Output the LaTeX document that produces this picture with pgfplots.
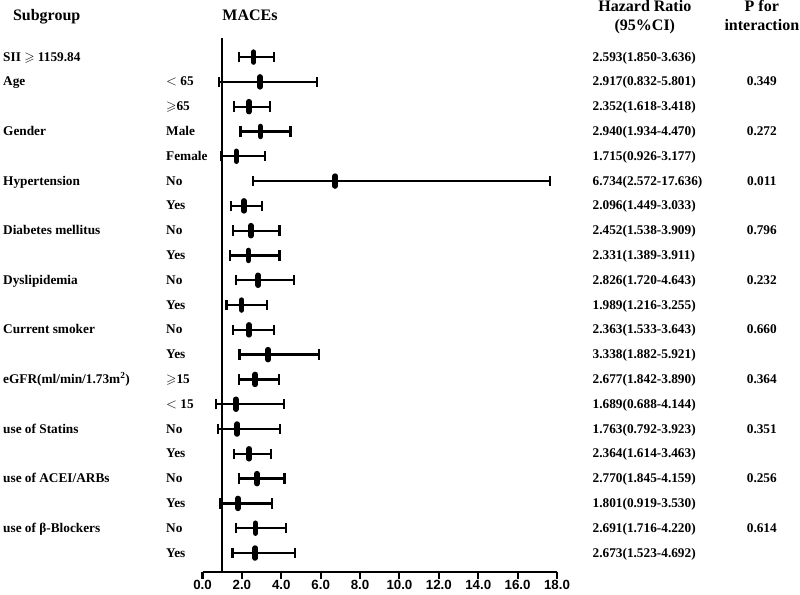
\documentclass[border=0pt]{standalone}
\usepackage{amssymb}
\usepackage{fontspec}
\setmainfont{Liberation Serif}
\newfontfamily\ticksans{Liberation Sans}
\usepackage{pgfplots}
\pgfplotsset{compat=1.18}
\usepackage{pgfplotstable}

\pgfplotstableread{
y hr lo hi
20 2.593 1.850 3.636
19 2.917 0.832 5.801
18 2.352 1.618 3.418
17 2.940 1.934 4.470
16 1.715 0.926 3.177
15 6.734 2.572 17.636
14 2.096 1.449 3.033
13 2.452 1.538 3.909
12 2.331 1.389 3.911
11 2.826 1.720 4.643
10 1.989 1.216 3.255
9 2.363 1.533 3.643
8 3.338 1.882 5.921
7 2.677 1.842 3.890
6 1.689 0.688 4.144
5 1.763 0.792 3.923
4 2.364 1.614 3.463
3 2.770 1.845 4.159
2 1.801 0.919 3.530
1 2.691 1.716 4.220
0 2.673 1.523 4.692
}\data

\begin{document}
\begin{tikzpicture}[
  lbl/.style={font=\bfseries\fontsize{13.3bp}{15bp}\selectfont, inner sep=0pt, text height=9bp, text depth=1bp},
  hdr/.style={font=\bfseries\fontsize{16bp}{18bp}\selectfont, inner sep=0pt, text height=11bp, text depth=1bp},
]
\path[use as bounding box] (0bp,0bp) rectangle (800bp,595bp);
\begin{axis}[
  at={(202.5bp,23bp)}, anchor=south west,
  scale only axis, width=354.5bp, height=534bp,
  xmin=0, xmax=18, ymin=-0.766, ymax=20.77,
  axis y line=none, axis x line*=bottom,
  axis line style={line width=2.4bp,-,black},
  xtick={0,2,...,18},
  xticklabels={0.0,2.0,4.0,6.0,8.0,10.0,12.0,14.0,16.0,18.0},
  xtick align=outside, major tick length=6.5bp,
  tick style={line width=2bp, black},
  xticklabel style={font=\ticksans\bfseries\fontsize{13.3bp}{15bp}\selectfont, inner sep=2bp},
  clip=false,
]
\addplot[black, line width=2.3bp] coordinates {(1,-0.766) (1,20.77)};
\addplot[draw=none, mark=none,
  error bars/.cd, x dir=both, x explicit,
  error bar style={draw=black, line width=2.3bp},
  error mark=|, error mark options={draw=black, line width=2.2bp, mark size=5.2bp}]
  table[x=hr, y=y, x error plus expr=\thisrow{hi}-\thisrow{hr}, x error minus expr=\thisrow{hr}-\thisrow{lo}] {\data};
\addplot[only marks, mark=|, mark size=5bp, mark options={draw=black, line width=5.5bp, line cap=round}]
  table[x=hr, y=y] {\data};

% headers
\node[hdr, anchor=west] at (axis cs:-9.63,21.69) {Subgroup};
\node[hdr] at (axis cs:2.41,21.69) {MACEs};
\node[hdr] at (axis cs:22.46,22.02) {Hazard Ratio};
\node[hdr] at (axis cs:22.46,21.29) {(95\%CI)};
\node[hdr] at (axis cs:28.4,22.02) {P for};
\node[hdr] at (axis cs:28.4,21.29) {interaction};

% subgroup labels
\node[lbl, anchor=west] at (axis cs:-10.13,20) {SII $\geqslant$ 1159.84};
\node[lbl, anchor=west] at (axis cs:-10.13,19) {Age};
\node[lbl, anchor=west] at (axis cs:-10.13,17) {Gender};
\node[lbl, anchor=west] at (axis cs:-10.13,15) {Hypertension};
\node[lbl, anchor=west] at (axis cs:-10.13,13) {Diabetes mellitus};
\node[lbl, anchor=west] at (axis cs:-10.13,11) {Dyslipidemia};
\node[lbl, anchor=west] at (axis cs:-10.13,9) {Current smoker};
\node[lbl, anchor=west] at (axis cs:-10.13,7) {eGFR(ml/min/1.73m\textsuperscript{2})};
\node[lbl, anchor=west] at (axis cs:-10.13,5) {use of Statins};
\node[lbl, anchor=west] at (axis cs:-10.13,3) {use of ACEI/ARBs};
\node[lbl, anchor=west] at (axis cs:-10.13,1) {use of β-Blockers};

% sub-category labels
\node[lbl, anchor=west] at (axis cs:-1.853,19) {$<$ 65};
\node[lbl, anchor=west] at (axis cs:-1.853,18) {$\geqslant$65};
\node[lbl, anchor=west] at (axis cs:-1.853,17) {Male};
\node[lbl, anchor=west] at (axis cs:-1.853,16) {Female};
\node[lbl, anchor=west] at (axis cs:-1.853,15) {No};
\node[lbl, anchor=west] at (axis cs:-1.853,14) {Yes};
\node[lbl, anchor=west] at (axis cs:-1.853,13) {No};
\node[lbl, anchor=west] at (axis cs:-1.853,12) {Yes};
\node[lbl, anchor=west] at (axis cs:-1.853,11) {No};
\node[lbl, anchor=west] at (axis cs:-1.853,10) {Yes};
\node[lbl, anchor=west] at (axis cs:-1.853,9) {No};
\node[lbl, anchor=west] at (axis cs:-1.853,8) {Yes};
\node[lbl, anchor=west] at (axis cs:-1.853,7) {$\geqslant$15};
\node[lbl, anchor=west] at (axis cs:-1.853,6) {$<$ 15};
\node[lbl, anchor=west] at (axis cs:-1.853,5) {No};
\node[lbl, anchor=west] at (axis cs:-1.853,4) {Yes};
\node[lbl, anchor=west] at (axis cs:-1.853,3) {No};
\node[lbl, anchor=west] at (axis cs:-1.853,2) {Yes};
\node[lbl, anchor=west] at (axis cs:-1.853,1) {No};
\node[lbl, anchor=west] at (axis cs:-1.853,0) {Yes};

% HR column
\node[lbl, anchor=west] at (axis cs:19.8,20) {2.593(1.850-3.636)};
\node[lbl, anchor=west] at (axis cs:19.8,19) {2.917(0.832-5.801)};
\node[lbl, anchor=west] at (axis cs:19.8,18) {2.352(1.618-3.418)};
\node[lbl, anchor=west] at (axis cs:19.8,17) {2.940(1.934-4.470)};
\node[lbl, anchor=west] at (axis cs:19.8,16) {1.715(0.926-3.177)};
\node[lbl, anchor=west] at (axis cs:19.8,15) {6.734(2.572-17.636)};
\node[lbl, anchor=west] at (axis cs:19.8,14) {2.096(1.449-3.033)};
\node[lbl, anchor=west] at (axis cs:19.8,13) {2.452(1.538-3.909)};
\node[lbl, anchor=west] at (axis cs:19.8,12) {2.331(1.389-3.911)};
\node[lbl, anchor=west] at (axis cs:19.8,11) {2.826(1.720-4.643)};
\node[lbl, anchor=west] at (axis cs:19.8,10) {1.989(1.216-3.255)};
\node[lbl, anchor=west] at (axis cs:19.8,9) {2.363(1.533-3.643)};
\node[lbl, anchor=west] at (axis cs:19.8,8) {3.338(1.882-5.921)};
\node[lbl, anchor=west] at (axis cs:19.8,7) {2.677(1.842-3.890)};
\node[lbl, anchor=west] at (axis cs:19.8,6) {1.689(0.688-4.144)};
\node[lbl, anchor=west] at (axis cs:19.8,5) {1.763(0.792-3.923)};
\node[lbl, anchor=west] at (axis cs:19.8,4) {2.364(1.614-3.463)};
\node[lbl, anchor=west] at (axis cs:19.8,3) {2.770(1.845-4.159)};
\node[lbl, anchor=west] at (axis cs:19.8,2) {1.801(0.919-3.530)};
\node[lbl, anchor=west] at (axis cs:19.8,1) {2.691(1.716-4.220)};
\node[lbl, anchor=west] at (axis cs:19.8,0) {2.673(1.523-4.692)};

% P column
\node[lbl] at (axis cs:28.4,19) {0.349};
\node[lbl] at (axis cs:28.4,17) {0.272};
\node[lbl] at (axis cs:28.4,15) {0.011};
\node[lbl] at (axis cs:28.4,13) {0.796};
\node[lbl] at (axis cs:28.4,11) {0.232};
\node[lbl] at (axis cs:28.4,9) {0.660};
\node[lbl] at (axis cs:28.4,7) {0.364};
\node[lbl] at (axis cs:28.4,5) {0.351};
\node[lbl] at (axis cs:28.4,3) {0.256};
\node[lbl] at (axis cs:28.4,1) {0.614};
\end{axis}
\end{tikzpicture}
\end{document}
